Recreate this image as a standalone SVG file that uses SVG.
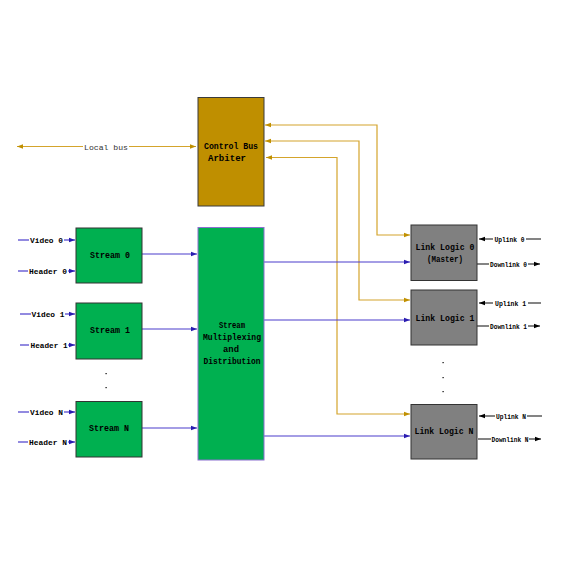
<svg xmlns="http://www.w3.org/2000/svg" width="573" height="573" viewBox="0 0 573 573">
<style>
.lbl{font-family:"Liberation Mono",monospace;font-size:8.5px;font-weight:bold;fill:#000;text-anchor:middle}
.io{font-family:"Liberation Mono",monospace;font-size:8px;font-weight:bold;fill:#000;text-anchor:middle}
.blue{stroke:#4a3ccc;stroke-width:1.2;fill:none}
.gold{stroke:#d4a42c;stroke-width:1.2;fill:none}
.blk{stroke:#333;stroke-width:1.2;fill:none}
</style>
<defs>
<marker id="ab" viewBox="0 0 6 6" refX="6" refY="3" markerWidth="6" markerHeight="6" orient="auto-start-reverse" markerUnits="userSpaceOnUse"><path d="M0,0.8 L6,3 L0,5.2z" fill="#2a1cb0"/></marker>
<marker id="ag" viewBox="0 0 6 6" refX="6" refY="3" markerWidth="6" markerHeight="6" orient="auto-start-reverse" markerUnits="userSpaceOnUse"><path d="M0,0.8 L6,3 L0,5.2z" fill="#c09000"/></marker>
<marker id="ak" viewBox="0 0 6 6" refX="6" refY="3" markerWidth="6" markerHeight="6" orient="auto-start-reverse" markerUnits="userSpaceOnUse"><path d="M0,0.8 L6,3 L0,5.2z" fill="#000"/></marker>
</defs>
<rect width="573" height="573" fill="#fff"/>
<g id="connectors">
<!-- local bus -->
<line class="gold" x1="17" y1="146.5" x2="83" y2="146.5" marker-start="url(#ag)"/>
<line class="gold" x1="129" y1="146.5" x2="196" y2="146.5" marker-end="url(#ag)"/>
<text x="106" y="149.5" textLength="44" lengthAdjust="spacingAndGlyphs" style="font-family:'Liberation Mono',monospace;font-size:8px;fill:#333;text-anchor:middle">Local bus</text>
<!-- gold link paths -->
<polyline class="gold" points="265,125 377,125 377,235 410,235" marker-start="url(#ag)" marker-end="url(#ag)"/>
<polyline class="gold" points="265,141 359,141 359,300 410,300" marker-start="url(#ag)" marker-end="url(#ag)"/>
<polyline class="gold" points="266,157.5 337,157.5 337,414 410,414" marker-start="url(#ag)" marker-end="url(#ag)"/>
<!-- inputs -->
<line class="blue" x1="18" y1="240" x2="29" y2="240"/><line class="blue" x1="64" y1="240" x2="75" y2="240" marker-end="url(#ab)"/>
<text class="io" x="46.5" y="243" textLength="33" lengthAdjust="spacingAndGlyphs">Video 0</text>
<line class="blue" x1="18" y1="271" x2="28" y2="271"/><line class="blue" x1="68" y1="271" x2="75" y2="271" marker-end="url(#ab)"/>
<text class="io" x="48" y="274" textLength="38" lengthAdjust="spacingAndGlyphs">Header 0</text>
<line class="blue" x1="20" y1="314" x2="31" y2="314"/><line class="blue" x1="65" y1="314" x2="75" y2="314" marker-end="url(#ab)"/>
<text class="io" x="48" y="317" textLength="33" lengthAdjust="spacingAndGlyphs">Video 1</text>
<line class="blue" x1="20" y1="345" x2="29" y2="345"/><line class="blue" x1="68" y1="345" x2="75" y2="345" marker-end="url(#ab)"/>
<text class="io" x="49" y="348" textLength="37" lengthAdjust="spacingAndGlyphs">Header 1</text>
<line class="blue" x1="18" y1="412" x2="29" y2="412"/><line class="blue" x1="64" y1="412" x2="75" y2="412" marker-end="url(#ab)"/>
<text class="io" x="46.5" y="415" textLength="33" lengthAdjust="spacingAndGlyphs">Video N</text>
<line class="blue" x1="18" y1="442" x2="28" y2="442"/><line class="blue" x1="68" y1="442" x2="75" y2="442" marker-end="url(#ab)"/>
<text class="io" x="48" y="445" textLength="38" lengthAdjust="spacingAndGlyphs">Header N</text>
<!-- stream outputs -->
<line class="blue" x1="142" y1="254" x2="197" y2="254" marker-end="url(#ab)"/>
<line class="blue" x1="142" y1="329" x2="197" y2="329" marker-end="url(#ab)"/>
<line class="blue" x1="142" y1="428" x2="197" y2="428" marker-end="url(#ab)"/>
<!-- mux outputs -->
<line class="blue" x1="264" y1="262" x2="410" y2="262" marker-end="url(#ab)"/>
<line class="blue" x1="264" y1="320" x2="410" y2="320" marker-end="url(#ab)"/>
<line class="blue" x1="264" y1="436" x2="410" y2="436" marker-end="url(#ab)"/>
<!-- right side -->
<line class="blk" x1="493" y1="239" x2="479" y2="239" marker-end="url(#ak)"/><line class="blk" x1="526" y1="239" x2="541" y2="239"/>
<text class="io" x="509.5" y="241.5" textLength="30" lengthAdjust="spacingAndGlyphs">Uplink 0</text>
<line class="blk" x1="477" y1="264" x2="489" y2="264"/><line class="blk" x1="528" y1="264" x2="540" y2="264" marker-end="url(#ak)"/>
<text class="io" x="508.5" y="266.5" textLength="37" lengthAdjust="spacingAndGlyphs">Downlink 0</text>
<line class="blk" x1="493" y1="303" x2="479" y2="303" marker-end="url(#ak)"/><line class="blk" x1="528" y1="303" x2="541" y2="303"/>
<text class="io" x="510.5" y="305.5" textLength="31" lengthAdjust="spacingAndGlyphs">Uplink 1</text>
<line class="blk" x1="477" y1="326" x2="489" y2="326"/><line class="blk" x1="528" y1="326" x2="540" y2="326" marker-end="url(#ak)"/>
<text class="io" x="508.5" y="328.5" textLength="37" lengthAdjust="spacingAndGlyphs">Downlink 1</text>
<line class="blk" x1="495" y1="416" x2="479" y2="416" marker-end="url(#ak)"/><line class="blk" x1="527" y1="416" x2="542" y2="416"/>
<text class="io" x="511" y="418.5" textLength="30" lengthAdjust="spacingAndGlyphs">Uplink N</text>
<line class="blk" x1="478" y1="439" x2="491" y2="439"/><line class="blk" x1="529" y1="439" x2="541" y2="439" marker-end="url(#ak)"/>
<text class="io" x="510" y="441.5" textLength="37" lengthAdjust="spacingAndGlyphs">Downlink N</text>
</g>
<g id="arbiter">
<rect x="198" y="97.5" width="66" height="108.5" fill="#bf8f00" stroke="#3a3a3a" stroke-width="1"/>
<text class="lbl" x="231" y="149" textLength="54" lengthAdjust="spacingAndGlyphs">Control Bus</text>
<text class="lbl" x="227" y="161" textLength="38" lengthAdjust="spacingAndGlyphs">Arbiter</text>
</g>
<g id="mux">
<rect x="198" y="227.5" width="66" height="232.5" fill="#00b050" stroke="#8a6fd0" stroke-width="1"/>
<text class="lbl" x="232" y="328" textLength="26" lengthAdjust="spacingAndGlyphs">Stream</text>
<text class="lbl" x="232" y="340" textLength="58" lengthAdjust="spacingAndGlyphs">Multiplexing</text>
<text class="lbl" x="231" y="352" textLength="16" lengthAdjust="spacingAndGlyphs">and</text>
<text class="lbl" x="232" y="364" textLength="57" lengthAdjust="spacingAndGlyphs">Distribution</text>
</g>
<g id="stream0">
<rect x="76" y="228" width="66" height="55" fill="#00b050" stroke="#333" stroke-width="1"/>
<text class="lbl" x="110" y="258" textLength="40" lengthAdjust="spacingAndGlyphs">Stream 0</text>
</g>
<g id="stream1">
<rect x="76" y="303" width="66" height="56" fill="#00b050" stroke="#333" stroke-width="1"/>
<text class="lbl" x="110" y="333" textLength="40" lengthAdjust="spacingAndGlyphs">Stream 1</text>
</g>
<g id="streamN">
<rect x="76" y="401.5" width="66" height="55.5" fill="#00b050" stroke="#333" stroke-width="1"/>
<text class="lbl" x="109" y="431" textLength="40" lengthAdjust="spacingAndGlyphs">Stream N</text>
</g>
<g id="dots-left">
<rect x="105.5" y="373" width="1.2" height="1.2" fill="#000"/>
<rect x="105.5" y="387" width="1.2" height="1.2" fill="#000"/>
</g>
<g id="link0">
<rect x="411" y="225" width="66" height="55.5" fill="#808080" stroke="#333" stroke-width="1"/>
<text class="lbl" x="445" y="250" textLength="59" lengthAdjust="spacingAndGlyphs">Link Logic 0</text>
<text class="lbl" x="445" y="262" textLength="36" lengthAdjust="spacingAndGlyphs">(Master)</text>
</g>
<g id="link1">
<rect x="411" y="290" width="66" height="55" fill="#808080" stroke="#333" stroke-width="1"/>
<text class="lbl" x="445" y="321" textLength="59" lengthAdjust="spacingAndGlyphs">Link Logic 1</text>
</g>
<g id="linkN">
<rect x="411" y="404.5" width="66" height="54.5" fill="#808080" stroke="#333" stroke-width="1"/>
<text class="lbl" x="444" y="434" textLength="59" lengthAdjust="spacingAndGlyphs">Link Logic N</text>
</g>
<g id="dots-right">
<rect x="442.5" y="362" width="1.2" height="1.2" fill="#000"/>
<rect x="442.5" y="377" width="1.2" height="1.2" fill="#000"/>
<rect x="442.5" y="391" width="1.2" height="1.2" fill="#000"/>
</g>
</svg>
